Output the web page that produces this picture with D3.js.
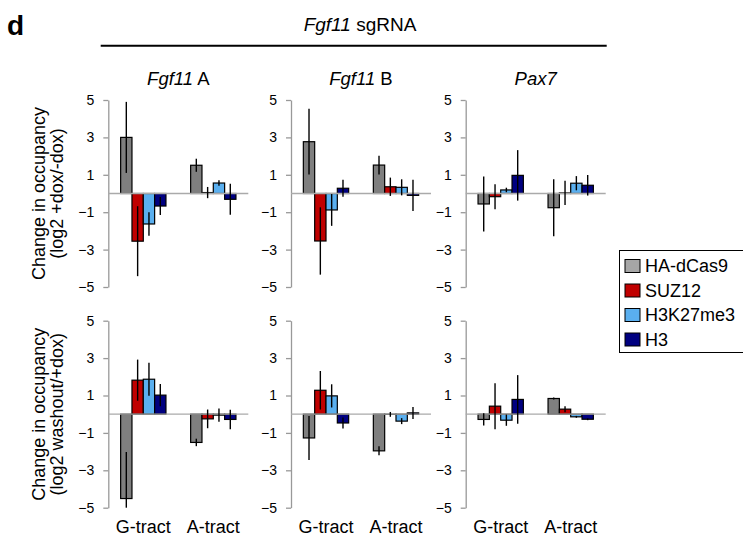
<!DOCTYPE html>
<html><head><meta charset="utf-8">
<script src="https://cdn.jsdelivr.net/npm/d3@7"></script>
<style>
body{margin:0;background:#fff;}
svg{display:block;font-family:Arial,"Liberation Sans",Helvetica,sans-serif;}
</style></head>
<body>
<svg id="chart" width="743" height="538"></svg>
<script>
// ---------- data ----------
const series = ["HA-dCas9", "SUZ12", "H3K27me3", "H3"];
const categories = ["G-tract", "A-tract"];
const loci = [{it: "Fgf11", rest: " A"}, {it: "Fgf11", rest: " B"}, {it: "Pax7", rest: ""}];
const yTicks = [5, 3, 1, -1, -3, -5];
const rowLabels = ["(log2 +dox/-dox)", "(log2 washout/+dox)"];

// top row: +dox/-dox ; values [G-tract series..., A-tract series...]
const doxFgf11A    = [[3.0, -2.55, -1.63, -0.67], [1.51, 0.05, 0.56, -0.31]];
const doxFgf11AErr = [[1.9, 1.87, 0.63, 0.48], [0.35, 0.3, 0.15, 0.83]];
const doxFgf11B    = [[2.77, -2.54, -0.88, 0.28], [1.52, 0.36, 0.33, -0.1]];
const doxFgf11BErr = [[1.76, 1.8, 0.85, 0.46], [0.5, 0.49, 0.43, 0.84]];
const doxPax7      = [[-0.56, -0.17, 0.19, 0.97], [-0.76, 0.03, 0.55, 0.44]];
const doxPax7Err   = [[1.47, 0.67, 0.12, 1.35], [1.52, 0.65, 0.38, 0.55]];

// bottom row: washout/+dox
const woFgf11A    = [[-4.51, 1.82, 1.87, 1.02], [-1.51, -0.25, -0.05, -0.28]];
const woFgf11AErr = [[2.49, 1.1, 0.88, 0.6], [0.2, 0.5, 0.35, 0.52]];
const woFgf11B    = [[-1.27, 1.28, 0.98, -0.47], [-1.96, -0.01, -0.37, 0.07]];
const woFgf11BErr = [[1.18, 1.03, 0.62, 0.3], [0.24, 0.13, 0.16, 0.32]];
const woPax7      = [[-0.28, 0.43, -0.32, 0.79], [0.84, 0.27, -0.14, -0.27]];
const woPax7Err   = [[0.33, 1.23, 0.3, 1.3], [0.05, 0.16, 0.05, 0.05]];

const rows = [
  [[doxFgf11A, doxFgf11AErr], [doxFgf11B, doxFgf11BErr], [doxPax7, doxPax7Err]],
  [[woFgf11A, woFgf11AErr], [woFgf11B, woFgf11BErr], [woPax7, woPax7Err]]
];

// ---------- style / layout ----------
const barColors = ["#7f7f7f", "#c00000", "#5aafef", "#000080"];
const legendColors = ["#a6a6a6", "#c00000", "#5aafef", "#000080"];
const panelX = [108.3, 291, 465.7];
const panelW = 140;
const rowY = [[100, 287], [320.7, 507.7]];

const svg = d3.select("#chart");

const x0 = d3.scaleBand().domain(categories).range([0, panelW]).padding(0);
const x1 = d3.scaleBand().domain(series).range([0, x0.bandwidth()]).paddingInner(0).paddingOuter(1.09);

rows.forEach((row, r) => {
  const y = d3.scaleLinear().domain([-5, 5]).range([rowY[r][1], rowY[r][0]]);
  row.forEach(([vals, errs], p) => {
    const g = svg.append("g").attr("transform", `translate(${panelX[p]},0)`);
    // axis
    const ax = g.append("g").call(d3.axisLeft(y).tickValues(yTicks).tickSize(5).tickSizeOuter(0).tickPadding(9).tickFormat(d3.format("d")));
    ax.select(".domain").attr("stroke", "#999").attr("stroke-width", 1.3);
    ax.selectAll(".tick line").attr("stroke", "#999").attr("stroke-width", 1.3);
    ax.selectAll(".tick text").attr("font-size", 14).attr("fill", "#000").attr("font-family", "Arial, 'Liberation Sans', sans-serif");
    // bars
    categories.forEach((c, ci) => {
      series.forEach((s, si) => {
        const v = vals[ci][si];
        const bx = x0(c) + x1(s);
        g.append("rect")
          .attr("x", bx).attr("width", x1.bandwidth())
          .attr("y", y(Math.max(0, v))).attr("height", Math.abs(y(v) - y(0)))
          .attr("fill", barColors[si]).attr("stroke", "#000").attr("stroke-width", 1.2);
      });
    });
    // zero line
    g.append("line").attr("x1", 0).attr("x2", panelW).attr("y1", y(0)).attr("y2", y(0))
      .attr("stroke", "#aaa").attr("stroke-width", 1.3);
    // error bars
    categories.forEach((c, ci) => {
      series.forEach((s, si) => {
        const v = vals[ci][si], e = errs[ci][si];
        const cx = x0(c) + x1(s) + x1.bandwidth() / 2;
        g.append("line").attr("x1", cx).attr("x2", cx)
          .attr("y1", y(Math.min(5, v + e))).attr("y2", y(Math.max(-5, v - e)))
          .attr("stroke", "#000").attr("stroke-width", 1.4);
      });
    });
    // panel titles (top row)
    if (r === 0) {
      const t = g.append("text").attr("x", panelW / 2).attr("y", 85).attr("text-anchor", "middle").attr("font-size", 18.5);
      t.append("tspan").attr("font-style", "italic").text(loci[p].it);
      if (loci[p].rest) t.append("tspan").text(loci[p].rest);
    }
    // category labels (bottom row)
    if (r === 1) {
      categories.forEach(c => {
        g.append("text").attr("x", x0(c) + x0.bandwidth() / 2).attr("y", 533)
          .attr("text-anchor", "middle").attr("font-size", 18).text(c);
      });
    }
  });
  // y labels
  const cy = (rowY[r][0] + rowY[r][1]) / 2;
  svg.append("text").attr("transform", `translate(45,${cy}) rotate(-90)`).attr("text-anchor", "middle")
    .attr("font-size", 18).text("Change in occupancy");
  svg.append("text").attr("transform", `translate(63,${cy}) rotate(-90)`).attr("text-anchor", "middle")
    .attr("font-size", 18).text(rowLabels[r]);
});

// header
svg.append("text").attr("x", 7).attr("y", 35).attr("font-size", 28).attr("font-weight", "bold").text("d");
const head = svg.append("text").attr("x", 360).attr("y", 31).attr("text-anchor", "middle").attr("font-size", 19);
head.append("tspan").attr("font-style", "italic").text("Fgf11");
head.append("tspan").text(" sgRNA");
svg.append("line").attr("x1", 100.7).attr("x2", 606.7).attr("y1", 45.7).attr("y2", 45.7)
  .attr("stroke", "#000").attr("stroke-width", 2);

// legend
const lg = svg.append("g");
lg.append("rect").attr("x", 619.5).attr("y", 250.5).attr("width", 130).attr("height", 102)
  .attr("fill", "#fff").attr("stroke", "#000").attr("stroke-width", 1);
series.forEach((s, i) => {
  const yy = 266 + i * 24.5;
  lg.append("rect").attr("x", 625).attr("y", yy - 6.5).attr("width", 15).attr("height", 13)
    .attr("fill", legendColors[i]).attr("stroke", "#000").attr("stroke-width", 1);
  lg.append("text").attr("x", 645).attr("y", yy).attr("dy", "0.35em").attr("font-size", 18).text(s);
});
</script>
</body></html>
